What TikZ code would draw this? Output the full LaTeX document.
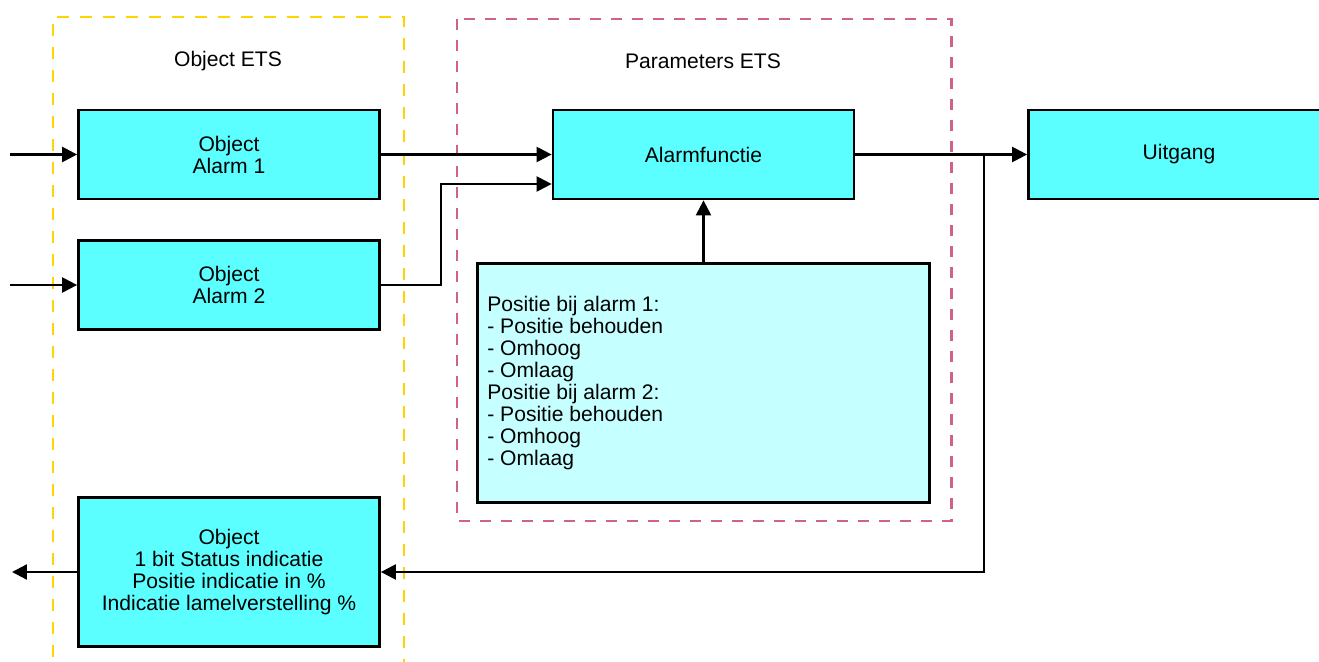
\documentclass[tikz,border=0pt]{standalone}
\usepackage{fontspec}
\setmainfont{Liberation Sans}
\usetikzlibrary{arrows.meta}
\definecolor{boxcyan}{HTML}{5BFFFF}
\definecolor{boxlight}{HTML}{C6FFFF}
\definecolor{ylw}{HTML}{FFD500}
\definecolor{pnk}{HTML}{D0628A}
\begin{document}
\begin{tikzpicture}[x=0.02cm,y=-0.02cm,
  every node/.style={font=\fontsize{12}{12.5}\selectfont, inner sep=0pt},
  blk/.style={draw=black, line width=1.6pt, fill=boxcyan, minimum width=6.02cm, minimum height=1.78cm, align=center},
  parbox/.style={draw=black, line width=1.6pt, fill=boxlight, minimum width=9.05cm, minimum height=4.79cm},
  arr/.style={draw=black, line width=1.3pt, -{Triangle[length=8.5pt,width=8.5pt]}},
  ygroup/.style={draw=ylw, line width=1.7pt, dash pattern=on 0.24cm off 0.22cm},
  pgroup/.style={draw=pnk, line width=1.7pt, dash pattern=on 0.22cm off 0.2cm},
  lbl/.style={}]
\useasboundingbox (0,0) rectangle (1319,662);
% group frames
\draw[ygroup] (53,680) -- (53,17) -- (404,17) -- (404,680);
\draw[pgroup] (457,19) rectangle (951,521);
\node[lbl] (lo) at (228,61) {Object ETS};
\node[lbl] (lp) at (703,61) {Parameters ETS};
% blocks
\node[blk] (a1) at (229,154.5) {Object\\Alarm 1};
\node[blk] (a2) at (229,285) {Object\\Alarm 2};
\node[blk] (af) at (703.5,154.5) {Alarmfunctie};
\node[blk] (up) at (1179,154.5) {Uitgang};
\node[parbox] (pr) at (703.5,383) {};
\node[align=left, anchor=west] (prt) at (487,383) {Positie bij alarm 1:\\- Positie behouden\\- Omhoog\\- Omlaag\\Positie bij alarm 2:\\- Positie behouden\\- Omhoog\\- Omlaag};
\node[blk, minimum height=2.99cm] (st) at (229,572) {Object\\1 bit Status indicatie\\Positie indicatie in \%\\Indicatie lamelverstelling \%};
% connectors
\coordinate (in1) at (10,154.5);
\coordinate (in2) at (10,285);
\coordinate (j2) at (441,184);
\coordinate (br) at (984,154.5);
\coordinate (out) at (12,572);
\draw[arr] (in1) -- (a1.west);
\draw[arr] (in2) -- (a2.west);
\draw[arr] (a1.east) -- (af.west);
\draw[arr] (a2.east) -| (j2) -- (af.west |- j2);
\draw[arr] (pr.north) -- (af.south);
\draw[arr] (af.east) -- (up.west);
\draw[arr] (br) |- (st.east);
\draw[arr] (st.west) -- (out);
\end{tikzpicture}
\end{document}
